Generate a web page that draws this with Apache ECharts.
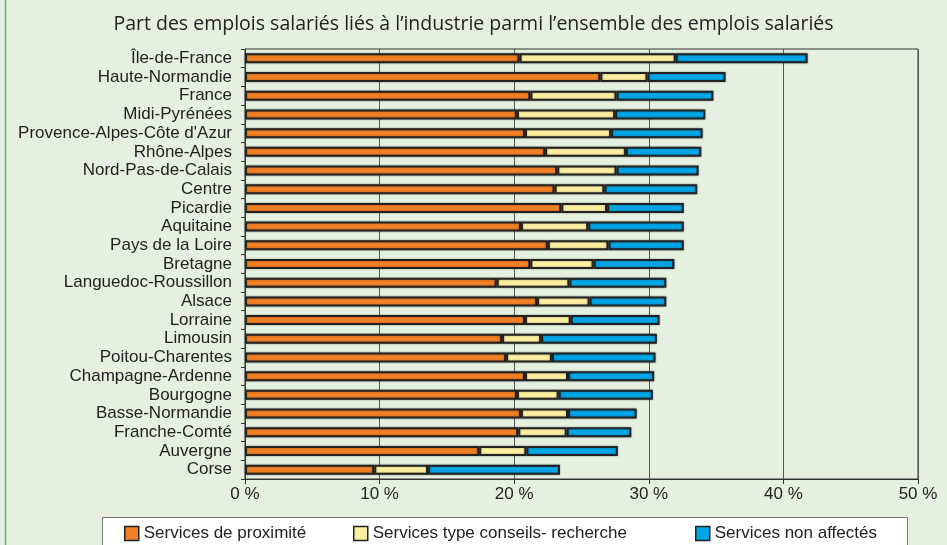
<!DOCTYPE html>
<html>
<head>
<meta charset="utf-8">
<script src="https://cdn.jsdelivr.net/npm/echarts@6/dist/echarts.min.js"></script>
<style>
html,body{margin:0;padding:0;background:#e5f0e1;}
#c{width:947px;height:545px;}
</style>
</head>
<body>
<div id="c"></div>
<script>
const title = "Part des emplois salariés liés à l’industrie parmi l’ensemble des emplois salariés";
const regions = ["Île-de-France","Haute-Normandie","France","Midi-Pyrénées","Provence-Alpes-Côte d'Azur","Rhône-Alpes","Nord-Pas-de-Calais","Centre","Picardie","Aquitaine","Pays de la Loire","Bretagne","Languedoc-Roussillon","Alsace","Lorraine","Limousin","Poitou-Charentes","Champagne-Ardenne","Bourgogne","Basse-Normandie","Franche-Comté","Auvergne","Corse"];
const seriesNames = ["Services de proximité","Services type conseils- recherche","Services non affectés"];
const proximite = [20.4,26.4,21.2,20.2,20.8,22.3,23.2,23.0,23.5,20.5,22.5,21.2,18.7,21.7,20.8,19.1,19.4,20.8,20.2,20.5,20.3,17.4,9.6];
const conseils  = [11.6,3.5,6.4,7.3,6.4,6.0,4.4,3.7,3.4,5.0,4.5,4.7,5.4,3.9,3.4,2.9,3.4,3.2,3.1,3.5,3.6,3.5,4.0];
const nonAffect = [9.8,5.8,7.2,6.7,6.8,5.6,6.1,6.9,5.7,7.1,5.6,6.0,7.2,5.7,6.6,8.6,7.7,6.4,7.0,5.1,4.8,6.8,9.8];
const xTicks = [0,10,20,30,40,50];
const colors = ["#f28024","#fbf0a0","#00a6e6"];

const chart = echarts.init(document.getElementById('c'), null, {renderer:'canvas'});
const vals = [proximite, conseils, nonAffect];
const series = seriesNames.map((n,i)=>({
  name:n, type:'bar', stack:'t', data:vals[i], barWidth:10,
  itemStyle:{color:colors[i], borderColor:'#222', borderWidth:2, shadowColor:'rgba(0,0,0,0.35)', shadowBlur:2},
  emphasis:{disabled:true}
}));
const legendLefts = [124,353,695];
chart.setOption({
  backgroundColor:'#e5f0e1',
  animation:false,
  title:{text:title, left:'center', top:9, textStyle:{fontFamily:'Open Sans', fontWeight:'normal', fontSize:19.5, color:'#222'}},
  graphic:[
    {type:'rect', shape:{x:102.5,y:517.5,width:805,height:40}, style:{fill:'#fff', stroke:'#777', lineWidth:1}, z:-1},
    {type:'line', shape:{x1:5.5,y1:0,x2:5.5,y2:545}, style:{stroke:'#5db556', lineWidth:1.5}}
  ],
  legend: seriesNames.map((n,i)=>({
    data:[n], left:legendLefts[i], top:525, padding:0, itemWidth:14, itemHeight:14, icon:'rect', itemGap:4,
    textStyle:{fontFamily:'Liberation Sans', fontSize:17, color:'#222'},
    itemStyle:{borderColor:'#222', borderWidth:1.5, shadowBlur:0}, selectedMode:false
  })),
  grid:{left:245, right:29, top:49, bottom:66, show:true, borderColor:'#333', borderWidth:1},
  xAxis:{type:'value', min:0, max:50, interval:10,
    axisLine:{show:true, lineStyle:{color:'#333'}},
    axisTick:{show:true, length:5, lineStyle:{color:'#333'}},
    axisLabel:{formatter:v=>xTicks.includes(v)? v+' %':'', fontFamily:'Liberation Sans', fontSize:17, color:'#222', margin:7},
    splitLine:{show:true, lineStyle:{color:'#555', width:1}}
  },
  yAxis:{type:'category', data:regions, inverse:true,
    axisLine:{show:true, lineStyle:{color:'#333'}},
    axisTick:{show:true, length:4, lineStyle:{color:'#333'}},
    axisLabel:{interval:0, fontFamily:'Liberation Sans', fontSize:17, color:'#222', margin:13}
  },
  series:series
});
</script>
</body>
</html>
